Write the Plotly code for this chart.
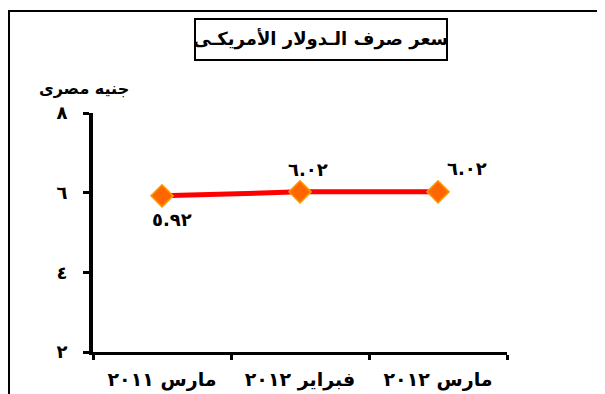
import plotly.graph_objects as go

# بيانات سعر صرف الدولار
fatrat = ["مارس 2011", "فبراير 2012", "مارس 2012"]
sier = [5.92, 6.02, 6.02]
y_ticks = [2, 4, 6, 8]

AR_DIGITS = str.maketrans("0123456789", "٠١٢٣٤٥٦٧٨٩")


def ar(s):
    return str(s).translate(AR_DIGITS)


FONT = "DejaVu Sans"
OFF = 8  # هامش الصفحة الافتراضي
W, H = 605, 394
L, T = 93 - OFF, 113 - OFF
R, B = W - (507 - OFF), H - (352 - OFF)
pw, ph = W - L - R, H - T - B


def px_x(x):
    return (x - OFF - L) / pw


def px_y(y):
    return (H - B - (y - OFF)) / ph


labels = [ar(f) for f in fatrat]

fig = go.Figure()
fig.add_trace(go.Scatter(
    x=labels, y=sier, mode="lines+markers",
    line=dict(color="#FF0000", width=5),
    marker=dict(symbol="diamond", size=17, color="#FF6600",
                line=dict(color="#FF9900", width=1.5)),
    hoverinfo="skip", showlegend=False,
))

# قيم النقاط
offsets = [(10, -24), (8, 22), (29, 23)]
for lab, v, (dx, dy) in zip(labels, sier, offsets):
    fig.add_annotation(x=lab, y=v, text="<b>" + ar(f"{v:.2f}") + "</b>",
                       showarrow=False, xshift=dx, yshift=dy,
                       font=dict(family=FONT, size=18, color="black"))

fig.update_xaxes(
    type="category", range=[-0.5, 2.5], tickson="boundaries",
    ticks="outside", ticklen=5, tickwidth=3, tickcolor="black",
    showline=True, linecolor="black", linewidth=3, showgrid=False,
    tickfont=dict(family=FONT, size=19, color="black"), ticklabelstandoff=8,
    tickprefix="<b>", ticksuffix="</b>",
)
fig.update_yaxes(
    range=[2, 8], tickvals=y_ticks, ticktext=["<b>" + ar(t) + "</b>" for t in y_ticks],
    ticks="outside", ticklen=6, tickwidth=3, tickcolor="black",
    showline=True, linecolor="black", linewidth=4, showgrid=False, zeroline=False,
    tickfont=dict(family=FONT, size=18, color="black"), ticklabelstandoff=12,
)

# الإطار الخارجي
fig.add_shape(type="rect", xref="paper", yref="paper",
              x0=px_x(9), x1=px_x(650), y0=px_y(440), y1=px_y(11),
              line=dict(color="black", width=2))
# إطار العنوان
fig.add_shape(type="rect", xref="paper", yref="paper",
              x0=px_x(195), x1=px_x(447), y0=px_y(60), y1=px_y(19),
              line=dict(color="black", width=2))
fig.add_annotation(xref="paper", yref="paper", x=px_x(320), y=px_y(39),
                   xanchor="center", yanchor="middle",
                   text="<b>سعر صرف الـدولار الأمريكـى</b>",
                   showarrow=False, font=dict(family=FONT, size=18, color="black"))
fig.add_annotation(xref="paper", yref="paper", x=px_x(84), y=px_y(88),
                   xanchor="center", yanchor="middle",
                   text="<b>جنيه مصرى</b>", showarrow=False,
                   font=dict(family=FONT, size=16, color="black"))

fig.update_layout(
    width=W, height=H, margin=dict(l=L, r=R, t=T, b=B),
    paper_bgcolor="white", plot_bgcolor="white",
)

fig.write_html("out.html")
